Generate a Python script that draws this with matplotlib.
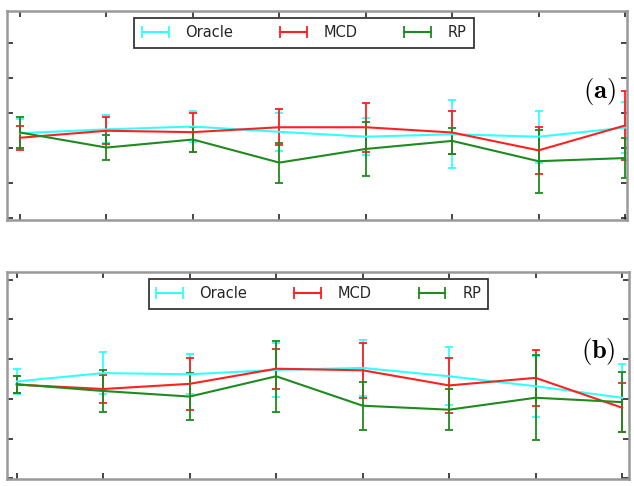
import numpy as np
import matplotlib
matplotlib.use('Agg')
from matplotlib import pyplot as plt
from matplotlib.container import ErrorbarContainer
from matplotlib.legend_handler import HandlerErrorbar

plt.rcParams['mathtext.fontset'] = 'cm'

x = np.arange(1, 9)
names = ['Oracle', 'MCD', 'RP']
colours = {'Oracle': '#33ffff', 'MCD': '#ff2020', 'RP': '#1f8a1f'}

# panel (a)
a_mean = {
    'Oracle': [2.43, 2.54, 2.62, 2.47, 2.33, 2.40, 2.33, 2.59],
    'MCD':    [2.30, 2.50, 2.46, 2.60, 2.60, 2.45, 1.94, 2.65],
    'RP':     [2.45, 2.02, 2.25, 1.59, 1.98, 2.21, 1.63, 1.72],
}
a_err = {
    'Oracle': [0.42, 0.40, 0.45, 0.54, 0.53, 0.97, 0.74, 0.72],
    'MCD':    [0.35, 0.39, 0.56, 0.51, 0.70, 0.62, 0.67, 0.99],
    'RP':     [0.43, 0.36, 0.35, 0.57, 0.76, 0.38, 0.90, 0.57],
}

# panel (b)
b_mean = {
    'Oracle': [2.44, 2.65, 2.62, 2.73, 2.78, 2.57, 2.32, 2.03],
    'MCD':    [2.36, 2.25, 2.38, 2.76, 2.72, 2.34, 2.53, 1.78],
    'RP':     [2.37, 2.20, 2.06, 2.57, 1.83, 1.73, 2.03, 1.92],
}
b_err = {
    'Oracle': [0.31, 0.53, 0.50, 0.67, 0.70, 0.73, 0.77, 0.85],
    'MCD':    [0.21, 0.36, 0.65, 0.50, 0.69, 0.70, 0.71, 0.62],
    'RP':     [0.21, 0.53, 0.60, 0.89, 0.60, 0.52, 1.07, 0.76],
}


def draw_panel(ax, means, errs, tag, xlim, ylim, legx, tagx):
    handles = []
    for nm in names:
        c = colours[nm]
        ax.errorbar(x, means[nm], yerr=errs[nm], color=c, lw=1.5,
                    elinewidth=1.3, capsize=3, capthick=1.3)
        # dummy with horizontal error bar, used only for the legend glyph
        h = ax.errorbar([np.nan], [np.nan], xerr=[0.1], color=c, lw=1.5,
                        elinewidth=1.3, capsize=4.5, capthick=1.3, label=nm)
        handles.append(h)
    ax.set_xlim(*xlim)
    ax.set_ylim(*ylim)
    ax.set_xticks(x)
    ax.set_yticks(np.arange(0, 6))
    ax.set_xticklabels([])
    ax.set_yticklabels([])
    ax.tick_params(direction='in', top=True, right=True, length=4,
                   width=1.2, color='0.15')
    for sp in ax.spines.values():
        sp.set_color('0.6')
        sp.set_linewidth(1.8)
    leg = ax.legend(handles=handles, ncol=3, loc='upper center',
                    bbox_to_anchor=(legx, 0.965), borderaxespad=0,
                    fancybox=False, edgecolor='0.15', framealpha=1,
                    fontsize=10.5, handlelength=1.85, handletextpad=1.15,
                    columnspacing=3.2, borderpad=0.5,
                    handler_map={ErrorbarContainer: HandlerErrorbar(xerr_size=0.92)})
    leg.get_frame().set_linewidth(1.2)
    for t in leg.get_texts():
        t.set_color('0.15')
    ax.text(tagx, 0.615, r'$\mathbf{(%s)}$' % tag, transform=ax.transAxes,
            ha='right', va='center', fontsize=19)


fig = plt.figure(figsize=(6.34, 4.86), dpi=100)
ax1 = fig.add_axes([0.0106, 0.5473, 0.9779, 0.4307])
ax2 = fig.add_axes([0.0106, 0.0138, 0.9815, 0.4272])

draw_panel(ax1, a_mean, a_err, 'a', (0.846, 8.02), (-0.05, 5.93), 0.48, 0.982)
draw_panel(ax2, b_mean, b_err, 'b', (0.884, 8.08), (-0.02, 5.2), 0.501, 0.979)

fig.savefig('out.png', dpi=100)
